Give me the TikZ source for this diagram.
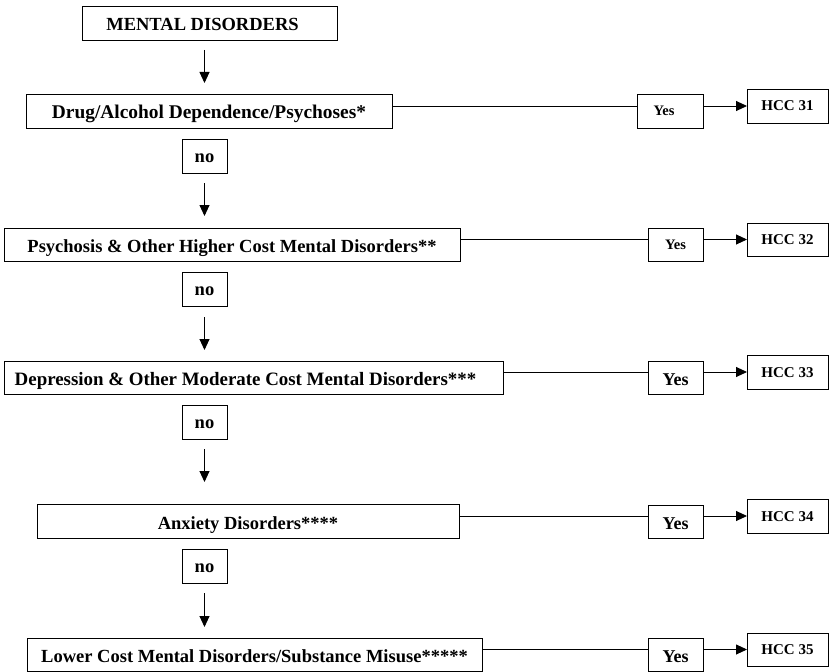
\documentclass[tikz,border=0pt]{standalone}
\usepackage{fontspec}
\setmainfont{Liberation Serif}
\usetikzlibrary{arrows.meta}
\begin{document}
\begin{tikzpicture}[x=1bp,y=-1bp,
  box/.style={draw=black, line width=0.9bp, rectangle, inner sep=0pt, outer sep=0pt, anchor=north west, text height=16bp, text depth=0bp, font=\fontsize{18.5bp}{20bp}\selectfont\bfseries},
  nobox/.style={box, text height=13bp},
  smallyes/.style={box, text height=10bp, font=\fontsize{14.5bp}{16bp}\selectfont\bfseries},
  bigyes/.style={box, text height=15bp, font=\fontsize{18bp}{20bp}\selectfont\bfseries},
  hccbox/.style={box, text height=10bp, font=\fontsize{15bp}{17bp}\selectfont\bfseries},
  link/.style={line width=0.9bp, draw=black},
  arr/.style={link, -{Triangle[length=11bp,width=10bp]}}
]
\useasboundingbox (0,0) rectangle (829,672);
% main column
\node[box, minimum width=255bp, minimum height=34bp] (m) at (82,6) {MENTAL DISORDERS\kern14bp};
\node[box, minimum width=366bp, minimum height=34bp, font=\fontsize{19.4bp}{21bp}\selectfont\bfseries] (d1) at (26,94) {Drug/Alcohol Dependence/Psychoses*};
\node[nobox, minimum width=45bp, minimum height=34bp] (n1) at (182,139) {no};
\node[box, minimum width=456bp, minimum height=33bp] (d2) at (4,228) {Psychosis \& Other Higher Cost Mental Disorders**};
\node[nobox, minimum width=45bp, minimum height=34bp] (n2) at (182,272) {no};
\node[box, minimum width=499bp, minimum height=33bp, font=\fontsize{18.9bp}{20bp}\selectfont\bfseries] (d3) at (4,361) {Depression \& Other Moderate Cost Mental Disorders***\kern16bp};
\node[nobox, minimum width=45bp, minimum height=34bp] (n3) at (182,405) {no};
\node[box, minimum width=422bp, minimum height=34bp] (d4) at (37,504) {Anxiety Disorders****};
\node[nobox, minimum width=45bp, minimum height=34bp] (n4) at (182,549) {no};
\node[box, minimum width=455bp, minimum height=33bp] (d5) at (27,638) {Lower Cost Mental Disorders/Substance Misuse*****};
% yes boxes
\node[smallyes, minimum width=66bp, minimum height=34bp] (y1) at (637,94) {Yes\kern12bp};
\node[smallyes, minimum width=55bp, minimum height=33bp] (y2) at (648,228) {Yes};
\node[bigyes, minimum width=55bp, minimum height=33bp] (y3) at (648,361) {Yes};
\node[bigyes, minimum width=55bp, minimum height=33bp] (y4) at (648,505) {Yes};
\node[bigyes, minimum width=55bp, minimum height=33bp] (y5) at (648,638) {Yes};
% HCC boxes
\node[hccbox, minimum width=81bp, minimum height=34bp] (h1) at (747,89) {HCC 31};
\node[hccbox, minimum width=81bp, minimum height=33bp] (h2) at (747,223) {HCC 32};
\node[hccbox, minimum width=81bp, minimum height=34bp] (h3) at (747,355) {HCC 33};
\node[hccbox, minimum width=81bp, minimum height=34bp] (h4) at (747,499) {HCC 34};
\node[hccbox, minimum width=81bp, minimum height=33bp] (h5) at (747,633) {HCC 35};
% vertical arrows
\draw[arr, shorten <=10bp, shorten >=11bp] (n1.center |- m.south) -- (n1.center |- d1.north);
\draw[arr, shorten <=10bp, shorten >=12bp] (n1.south) -- (n1.south |- d2.north);
\draw[arr, shorten <=11bp, shorten >=11bp] (n2.south) -- (n2.south |- d3.north);
\draw[arr, shorten <=10bp, shorten >=22bp] (n3.south) -- (n3.south |- d4.north);
\draw[arr, shorten <=10bp, shorten >=11bp] (n4.south) -- (n4.south |- d5.north);
% horizontal connectors
\foreach \i in {1,...,5}{
  \draw[link] (d\i.east |- h\i.west) -- (y\i.west |- h\i.west);
  \draw[arr] (y\i.east |- h\i.west) -- (h\i.west);
}
\end{tikzpicture}
\end{document}
